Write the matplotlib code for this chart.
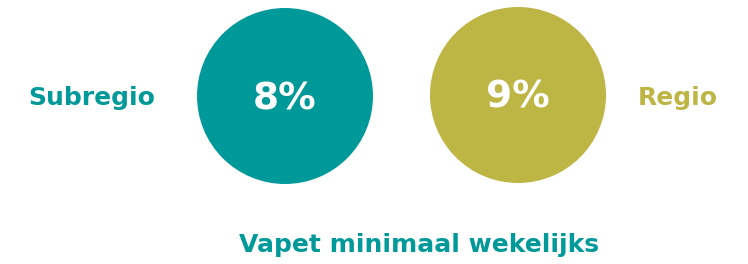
import matplotlib.pyplot as plt
from matplotlib.patches import Circle

# data
regions = ['Subregio', 'Regio']
percentages = [8, 9]
colors = ['#009999', '#BDB544']
title = 'Vapet minimaal wekelijks'

fig = plt.figure(figsize=(7.48, 2.64), dpi=100)
ax = fig.add_axes([0, 0, 1, 1])
ax.set_xlim(0, 748)
ax.set_ylim(264, 0)
ax.set_aspect('equal')
ax.axis('off')

# circle centres and label spots
centres = [(285, 96), (518, 95)]
label_x = [92, 678]

for i in range(len(regions)):
    cx, cy = centres[i]
    ax.add_patch(Circle((cx, cy), 88, color=colors[i], lw=0))
    ax.text(cx, cy + 3, f'{percentages[i]}%', color='white', fontsize=27,
            fontweight='bold', ha='center', va='center', family='DejaVu Sans')
    ax.text(label_x[i], 98, regions[i], color=colors[i], fontsize=18,
            fontweight='bold', ha='center', va='center', family='DejaVu Sans')

ax.text(419, 245, title, color=colors[0], fontsize=18, fontweight='bold',
        ha='center', va='center', family='DejaVu Sans')

fig.savefig('out.png', dpi=100)
